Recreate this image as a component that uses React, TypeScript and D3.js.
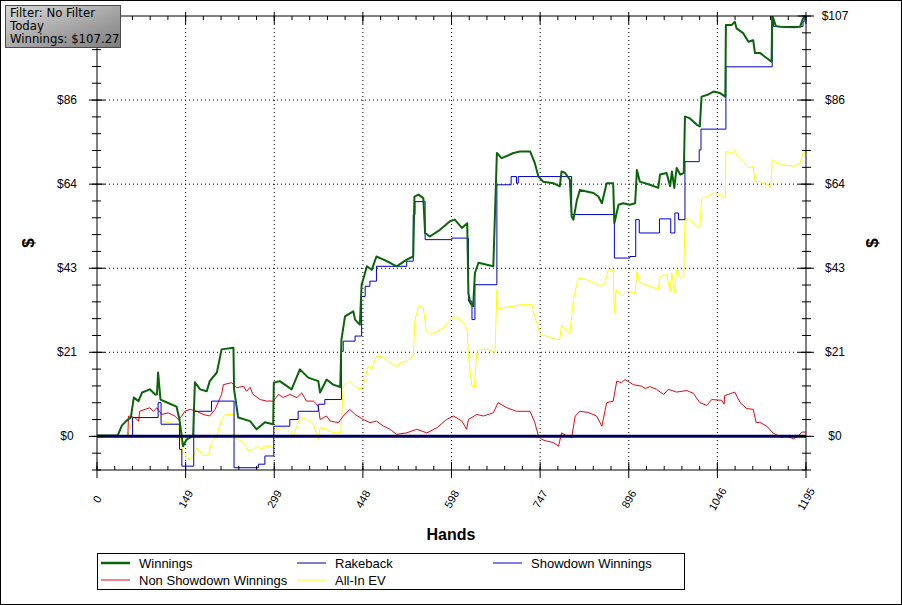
import React from "react";
import * as d3 from "d3";

type P = [number, number];

const handsMax = 1195;
const winningsTotal = 107.27;
const xTickCount = 8;
const yTickCount = 5;

const filterLines = ["Filter: No Filter", "Today", "Winnings: $107.27"];

const winnings: P[] = [
  [0, 0.25], [35, 0.25], [42, 2.8], [52, 4.3], [57, 4.8], [62, 9.9], [70, 9.0], [76, 11.2], [89, 12.0],
  [98, 10.7], [101, 10.7], [103, 16.3], [107, 9.4], [117, 8.7], [134, 7.6], [139, 4.3], [145, -2.5],
  [151, -0.8], [162, 0.1], [165, 13.8], [174, 12.0], [185, 11.5], [190, 14.1], [202, 16.3], [210, 22.2],
  [230, 22.6], [231, 12.0], [238, 4.8], [258, 3.9], [269, 1.8], [283, 3.6], [297, 3.1], [298, 13.7],
  [308, 14.1], [328, 12.0], [342, 17.1], [356, 15.0], [373, 14.1], [376, 11.2], [387, 14.5], [398, 13.2],
  [410, 12.6], [412, 24.7], [418, 30.6], [432, 31.9], [435, 29.8], [443, 28.5], [446, 38.7], [455, 43.4],
  [463, 42.5], [471, 45.9], [483, 45.1], [494, 44.3], [505, 43.4], [522, 45.1], [533, 45.9], [535, 61.2],
  [542, 61.7], [550, 60.8], [553, 51.9], [561, 51.0], [578, 52.7], [595, 54.9], [603, 55.3], [615, 53.2],
  [624, 54.4], [626, 36.6], [629, 34.1], [634, 33.2], [637, 41.7], [643, 44.3], [657, 43.8], [668, 43.4],
  [674, 72.3], [682, 71.0], [702, 72.3], [713, 72.7], [730, 72.7], [738, 69.7], [744, 66.3], [752, 65.0],
  [769, 64.6], [780, 63.8], [783, 67.6], [789, 67.2], [797, 65.5], [800, 56.1], [803, 55.3], [809, 60.4],
  [814, 62.9], [825, 62.5], [837, 62.1], [845, 61.2], [851, 59.5], [859, 64.6], [870, 64.6], [872, 54.4],
  [879, 59.1], [887, 59.5], [898, 59.1], [907, 59.5], [910, 68.0], [915, 65.0], [932, 64.2], [946, 63.4],
  [949, 66.8], [960, 67.2], [966, 63.8], [969, 67.6], [973, 63.4], [977, 68.5], [983, 66.8], [989, 67.2],
  [991, 81.6], [999, 81.2], [1011, 79.5], [1016, 79.1], [1019, 86.7], [1028, 87.1], [1039, 88.0],
  [1050, 87.6], [1059, 86.7], [1060, 105.0], [1070, 105.0], [1075, 105.8], [1078, 104.1], [1089, 102.9],
  [1098, 100.7], [1106, 101.1], [1109, 97.8], [1118, 97.8], [1129, 96.5], [1137, 95.6], [1138, 107.27],
  [1141, 106.2], [1144, 104.7], [1151, 104.5], [1174, 104.4], [1185, 104.5], [1190, 106.7], [1195, 107.27],
];

const rakeback: P[] = [[0, 0], [1195, 0]];

const showdown: P[] = [
  [0, 0], [60, 4.8], [103, 8.6], [108, 3.1], [139, -3.3], [143, -7.6], [163, 6.4], [193, 9.0], [231, -8.0],
  [272, -7.1], [283, -5.0], [298, 2.6], [325, 4.3], [339, 6.4], [373, 8.2], [384, 9.4], [412, 21.7],
  [415, 24.3], [435, 25.6], [446, 35.7], [452, 38.3], [460, 39.6], [471, 43.4], [522, 44.7], [533, 56.6],
  [536, 59.9], [553, 50.2], [598, 50.6], [626, 34.5], [632, 29.8], [637, 38.7], [674, 64.2], [698, 66.3],
  [707, 64.6], [710, 66.3], [800, 56.6], [872, 45.5], [898, 45.9], [908, 55.3], [914, 51.9], [948, 55.5],
  [967, 51.9], [974, 57.0], [980, 55.3], [991, 70.1], [1015, 73.1], [1018, 78.4], [1060, 94.3],
  [1138, 106.1], [1140, 104.6], [1190, 105.8], [1192, 107.27], [1195, 107.27],
];

const nonShowdown: P[] = [
  [0, 0], [52, 0], [53, 5.2], [64, 4.8], [70, 3.9], [72, 6.4], [81, 6.9], [89, 7.3], [95, 6.4], [101, 7.3],
  [109, 5.6], [120, 6.0], [131, 5.2], [137, 4.3], [143, 5.2], [148, 6.4], [157, 6.9], [168, 6.4], [179, 5.6],
  [190, 5.2], [199, 6.9], [210, 10.7], [213, 13.2], [227, 13.7], [235, 12.4], [247, 12.8], [252, 11.5],
  [258, 12.5], [263, 10.7], [275, 9.4], [286, 9.0], [297, 9.0], [306, 10.7], [314, 9.9], [325, 10.7],
  [337, 9.9], [345, 11.1], [353, 9.0], [365, 9.0], [373, 7.7], [376, 4.3], [387, 5.2], [393, 3.9],
  [407, 3.5], [415, 5.2], [426, 6.9], [435, 5.6], [449, 4.3], [460, 3.5], [471, 3.9], [483, 2.6],
  [494, 1.8], [505, 0.5], [522, 0.9], [539, 1.8], [556, 0.9], [573, 2.2], [589, 4.3], [601, 5.2],
  [615, 3.9], [623, 1.8], [626, 4.3], [640, 5.6], [651, 5.2], [668, 6.0], [676, 8.6], [691, 7.3],
  [707, 6.4], [730, 6.4], [738, 3.5], [744, 0.1], [750, -0.8], [758, -1.2], [769, -1.6], [778, -2.5],
  [783, 0.9], [792, 0.1], [800, -0.3], [806, 5.2], [814, 6.4], [828, 6.1], [842, 5.2], [851, 2.6],
  [859, 8.6], [870, 9.0], [876, 14.1], [884, 13.7], [890, 14.5], [904, 13.2], [918, 12.8], [924, 12.2],
  [932, 12.7], [943, 12.0], [955, 10.7], [963, 12.0], [977, 11.3], [994, 11.7], [1005, 11.0], [1016, 8.6],
  [1028, 7.9], [1036, 9.4], [1053, 9.2], [1057, 8.2], [1058, 10.4], [1075, 11.3], [1084, 8.6], [1095, 7.1],
  [1106, 6.9], [1111, 3.5], [1117, 3.6], [1129, 2.6], [1140, 0.8], [1154, -0.3], [1162, 0.1], [1174, -0.6],
  [1182, 0.1], [1188, 1.1], [1195, 1.1],
];

const allInEV: P[] = [
  [0, 0], [52, 0], [60, 4.8], [103, 4.8], [106, 5.6], [109, 3.9], [120, 3.5], [131, 3.1], [137, 3.3],
  [140, 0.1], [145, -4.2], [151, -5.4], [157, -5.9], [162, -5.4], [168, -2.9], [179, -5.0], [188, -4.6],
  [193, -1.6], [202, 0.1], [210, 4.3], [216, 5.6], [231, 5.6], [231.5, -0.3], [238, -0.8], [247, -1.6],
  [255, -3.7], [263, -3.3], [269, -2.5], [278, -3.3], [283, -2.5], [294, -2.5], [297, -3.1], [298, 1.8],
  [306, 2.2], [317, 2.2], [331, 0.1], [342, 4.8], [353, 4.3], [365, 3.1], [373, -0.8], [376, 2.2],
  [387, 1.8], [398, 0.9], [411, 0.9], [415, 12.8], [426, 14.1], [435, 12.8], [443, 12.0], [449, 13.2],
  [457, 17.9], [463, 17.1], [471, 20.5], [483, 20.1], [494, 18.8], [505, 17.9], [511, 18.8], [522, 19.2],
  [533, 20.5], [536, 29.8], [542, 33.2], [550, 32.8], [555, 26.8], [561, 26.0], [573, 26.8], [584, 27.7],
  [595, 29.8], [606, 30.6], [617, 29.0], [624, 27.3], [626, 20.5], [632, 12.8], [636, 12.4], [640, 21.3],
  [646, 22.2], [660, 22.2], [671, 21.3], [674, 37.5], [676, 32.4], [682, 32.8], [702, 33.2], [713, 33.6],
  [733, 33.6], [738, 30.6], [747, 26.0], [758, 25.6], [775, 24.7], [780, 24.7], [783, 28.5], [794, 26.4],
  [797, 26.4], [803, 34.9], [811, 40.4], [825, 40.0], [837, 39.2], [848, 38.3], [856, 39.2], [862, 42.5],
  [870, 42.4], [872, 31.5], [875, 37.5], [884, 35.7], [893, 37.0], [907, 36.6], [910, 42.1], [915, 39.2],
  [932, 38.3], [946, 37.5], [949, 40.8], [960, 41.3], [966, 37.0], [969, 41.7], [973, 36.6], [977, 42.5],
  [983, 40.4], [989, 40.8], [991, 55.7], [999, 55.3], [1011, 53.6], [1016, 53.2], [1019, 60.8],
  [1028, 61.2], [1039, 62.1], [1050, 61.7], [1059, 60.8], [1060, 72.7], [1070, 72.4], [1075, 73.1],
  [1078, 71.8], [1089, 70.1], [1098, 68.5], [1106, 68.9], [1109, 65.0], [1118, 65.0], [1129, 64.2],
  [1136, 63.4], [1138, 70.6], [1151, 69.3], [1168, 69.1], [1174, 68.9], [1185, 69.7], [1190, 72.3],
  [1195, 72.7],
];

const legendItems = [
  { name: "Winnings", color: "#0b640b", width: 2.5 },
  { name: "Rakeback", color: "#000080", width: 1 },
  { name: "Showdown Winnings", color: "#0000c8", width: 1 },
  { name: "Non Showdown Winnings", color: "#dc0a14", width: 1 },
  { name: "All-In EV", color: "#ffff00", width: 1 },
];

const W = 902;
const H = 605;
const L = 97;
const R = 806;
const T = 16;
const B = 470;

export default function App() {
  const yStep = winningsTotal / yTickCount;
  const x = d3.scaleLinear().domain([0, handsMax]).range([L, R]);
  const y = d3.scaleLinear().domain([-0.4 * yStep, winningsTotal]).range([B, T]);

  const xMajor = d3.range(0, xTickCount + 1).map((i) => (i * handsMax) / xTickCount);
  const xMinor = d3.range(0, xTickCount * 5 + 1).map((i) => (i * handsMax) / (xTickCount * 5));
  const yMajor = d3.range(0, yTickCount + 1).map((i) => i * yStep);
  const yMinor = d3.range(-2, yTickCount * 5 + 1).map((i) => (i * yStep) / 5);

  const lin = d3.line<P>().x((d) => x(d[0])).y((d) => y(d[1]));
  const step = d3.line<P>().x((d) => x(d[0])).y((d) => y(d[1])).curve(d3.curveStepAfter);

  const fmtY = (v: number) => "$" + Math.round(v);
  const font = "'Liberation Sans', Arial, sans-serif";

  return (
    <svg width={W} height={H} style={{ position: "absolute", left: 0, top: 0, background: "#fff" }} fontFamily={font}>
      <defs>
        <clipPath id="plot">
          <rect x={L} y={T} width={R - L} height={B - T} />
        </clipPath>
        <linearGradient id="boxg" x1="0" y1="0" x2="1" y2="1">
          <stop offset="0" stopColor="#d8d8d8" />
          <stop offset="1" stopColor="#7c7c7c" />
        </linearGradient>
      </defs>
      <rect x={0.5} y={0.5} width={W - 1} height={H - 1} fill="#fff" stroke="#000" />

      {/* grid */}
      {xMajor.slice(1, -1).map((v, i) => (
        <line key={"gx" + i} x1={x(v)} x2={x(v)} y1={T} y2={B} stroke="#000" strokeDasharray="1 3" />
      ))}
      {yMajor.slice(1, -1).map((v, i) => (
        <line key={"gy" + i} x1={L} x2={R} y1={y(v)} y2={y(v)} stroke="#000" strokeDasharray="1 3" />
      ))}

      {/* series */}
      <g clipPath="url(#plot)" fill="none" strokeLinejoin="round">
        <path d={lin(allInEV) || ""} stroke="#ffff00" strokeWidth={1} />
        <path d={lin(nonShowdown) || ""} stroke="#dc0a14" strokeWidth={1} />
        <path d={step(showdown) || ""} stroke="#0000c8" strokeWidth={1} />
        <path d={lin(winnings) || ""} stroke="#0b640b" strokeWidth={2} />
        <path d={lin(rakeback) || ""} stroke="#00005a" strokeWidth={3} />
      </g>

      {/* frame */}
      <g stroke="#000" strokeWidth={1}>
        <line x1={L} x2={R} y1={T} y2={T} />
        <line x1={L} x2={R} y1={B} y2={B} />
        <line x1={L} x2={L} y1={T} y2={B} />
        <line x1={R} x2={R} y1={T} y2={B} />
        {xMinor.map((v, i) => (
          <g key={"xm" + i}>
            <line x1={x(v)} x2={x(v)} y1={B - 4} y2={B} />
            <line x1={x(v)} x2={x(v)} y1={T} y2={T + 4} />
          </g>
        ))}
        {xMajor.map((v, i) => (
          <g key={"xM" + i}>
            <line x1={x(v)} x2={x(v)} y1={B - 8} y2={B + 8} />
            <line x1={x(v)} x2={x(v)} y1={T - 4} y2={T + 8} />
          </g>
        ))}
        {yMinor.map((v, i) => (
          <g key={"ym" + i}>
            <line x1={L - 5} x2={L + 4} y1={y(v)} y2={y(v)} />
            <line x1={R - 4} x2={R + 5} y1={y(v)} y2={y(v)} />
          </g>
        ))}
        {yMajor.map((v, i) => (
          <g key={"yM" + i}>
            <line x1={L - 8} x2={L + 8} y1={y(v)} y2={y(v)} />
            <line x1={R - 8} x2={R + 8} y1={y(v)} y2={y(v)} />
          </g>
        ))}
      </g>

      {/* tick labels */}
      <g fontSize={12} fill="#000">
        {yMajor.map((v, i) => (
          <g key={"yl" + i}>
            {i < yMajor.length - 1 && (
              <text x={67} y={y(v)} textAnchor="middle" dominantBaseline="central">{fmtY(v)}</text>
            )}
            <text x={835} y={y(v)} textAnchor="middle" dominantBaseline="central">{fmtY(v)}</text>
          </g>
        ))}
        {xMajor.map((v, i) => (
          <text key={"xl" + i} transform={`translate(${x(v)},499) rotate(-60)`} textAnchor="middle"
            dominantBaseline="central" fontSize={11}>{Math.round(v)}</text>
        ))}
      </g>

      {/* axis titles */}
      <text x={451} y={540} textAnchor="middle" fontSize={16} fontWeight="bold">Hands</text>
      <text transform="translate(28,243) rotate(-90)" textAnchor="middle" dominantBaseline="central" fontSize={17} fontWeight="bold">$</text>
      <text transform="translate(872,243) rotate(-90)" textAnchor="middle" dominantBaseline="central" fontSize={17} fontWeight="bold">$</text>

      {/* legend */}
      <rect x={97.5} y={553.5} width={587} height={36} fill="#fff" stroke="#000" />
      {legendItems.map((it, i) => {
        const col = i % 3;
        const row = Math.floor(i / 3);
        const lx = [101, 297, 493][col];
        const ly = 563 + row * 17;
        return (
          <g key={"lg" + i}>
            <line x1={lx} x2={lx + 29} y1={ly} y2={ly} stroke={it.color} strokeWidth={it.width} />
            <text x={lx + 38} y={ly} dominantBaseline="central" fontSize={13} fill="#000">{it.name}</text>
          </g>
        );
      })}

      {/* filter box */}
      <rect x={5.5} y={5.5} width={115} height={42} fill="url(#boxg)" stroke="#4a4a4a" />
      {filterLines.map((t, i) => (
        <text key={"fl" + i} x={10} y={17 + i * 13} fontSize={11.7} fontFamily="'DejaVu Sans', Verdana, sans-serif" fill="#000">{t}</text>
      ))}
    </svg>
  );
}
